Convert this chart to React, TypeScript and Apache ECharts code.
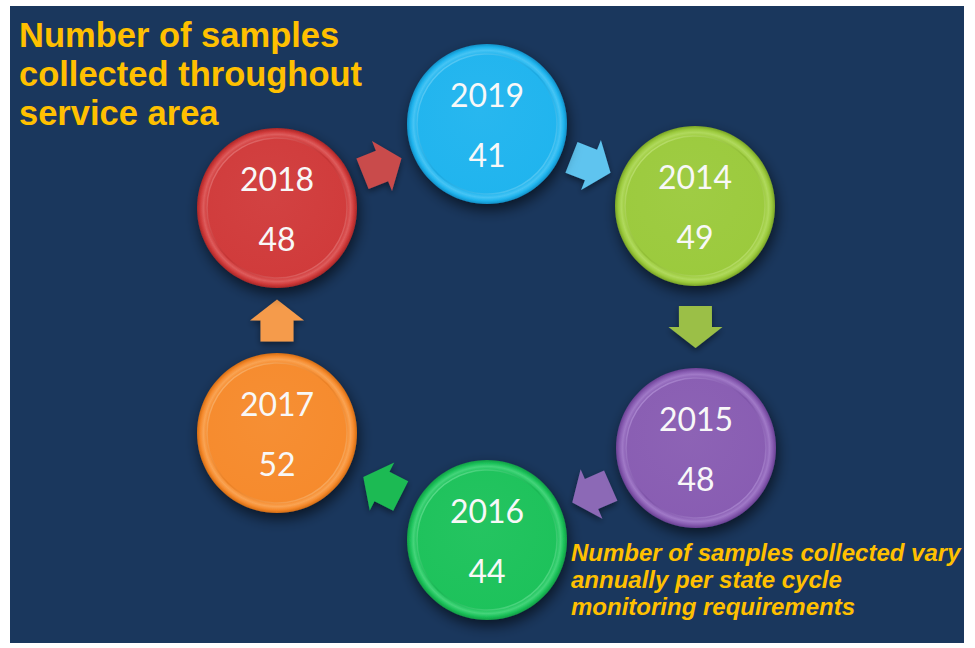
import React, { useEffect, useRef } from "react";
import * as echarts from "echarts";

// ---- data ----
const YEARS = ["2019", "2014", "2015", "2016", "2017", "2018"];
const SAMPLES = [41, 49, 48, 44, 52, 48];
const TITLE_LINES = ["Number of samples", "collected throughout", "service area"];
const NOTE_LINES = [
  "Number of samples collected vary",
  "annually per state cycle",
  "monitoring requirements",
];

// ---- layout (diagram slots, page pixels) ----
const SLOT_X = [487, 695, 696, 487, 277, 277];
const SLOT_Y = [124, 206, 448, 540, 433, 208];

// ---- styles ----
const BASE = ["#1fb4ee", "#9bca3c", "#885cb2", "#1cc25a", "#f68a2c", "#d03a3a"];
const DARK = ["#138fc6", "#79a326", "#6a4193", "#129d45", "#d26c14", "#a82727"];
const LIGHT = ["#8fe2ff", "#d8f59a", "#cdb0ee", "#8ff5b5", "#ffd09a", "#f59a9a"];
const ARROW = ["#5fc4ef", "#9bbf46", "#8c69b6", "#1bba52", "#f59b4b", "#c94b4b"];

const W = 975;
const H = 648;
const R = 80;

function mix(a: string, b: string, t: number) {
  const pa = [1, 3, 5].map((k) => parseInt(a.slice(k, k + 2), 16));
  const pb = [1, 3, 5].map((k) => parseInt(b.slice(k, k + 2), 16));
  const m = pa.map((v, i) => Math.round(v + (pb[i] - v) * t));
  return "rgb(" + m.join(",") + ")";
}

export default function App() {
  const ref = useRef<HTMLDivElement>(null);

  useEffect(() => {
    document.body.style.margin = "0";
    const chart = echarts.init(ref.current!, null, { renderer: "svg" });

    const nodeData = YEARS.map((y, i) => [SLOT_X[i], SLOT_Y[i], SAMPLES[i], i]);
    const arrowData = YEARS.map((_, i) => {
      const j = (i + 1) % YEARS.length;
      return [SLOT_X[i], SLOT_Y[i], SLOT_X[j], SLOT_Y[j], i];
    });

    const option: any = {
      animation: false,
      backgroundColor: "#ffffff",
      grid: { left: 0, right: 0, top: 0, bottom: 0 },
      xAxis: { type: "value", min: 0, max: W, show: false },
      yAxis: { type: "value", min: 0, max: H, inverse: true, show: false },
      graphic: [
        {
          type: "rect",
          z: -10,
          shape: { x: 10, y: 6, width: 954, height: 637 },
          style: { fill: "#1a375d" },
        },
        {
          type: "text",
          left: 19,
          top: 15,
          z: 10,
          style: {
            text: TITLE_LINES.join("\n"),
            fill: "#ffc000",
            font: 'bold 34.5px "Liberation Sans", Arial, sans-serif',
            lineHeight: 39,
          },
        },
        {
          type: "text",
          left: 571,
          top: 539,
          z: 10,
          style: {
            text: NOTE_LINES.join("\n"),
            fill: "#ffc000",
            font: 'italic bold 24px "Liberation Sans", Arial, sans-serif',
            lineHeight: 27,
          },
        },
      ],
      series: [
        {
          type: "custom",
          coordinateSystem: "cartesian2d",
          data: arrowData,
          silent: true,
          renderItem: (params: any, api: any) => {
            const p1 = api.coord([api.value(0), api.value(1)]);
            const p2 = api.coord([api.value(2), api.value(3)]);
            const idx = api.value(4);
            const mx = (p1[0] + p2[0]) / 2;
            const my = (p1[1] + p2[1]) / 2;
            const a = Math.atan2(p2[1] - p1[1], p2[0] - p1[0]);
            const c = Math.cos(a);
            const s = Math.sin(a);
            const local = [
              [-21, -16.5],
              [0, -16.5],
              [0, -27],
              [21, 0],
              [0, 27],
              [0, 16.5],
              [-21, 16.5],
            ];
            const pts = local.map(([u, v]) => [mx + u * c - v * s, my + u * s + v * c]);
            return {
              type: "polygon",
              shape: { points: pts },
              style: {
                fill: ARROW[idx],
                shadowBlur: 6,
                shadowColor: "rgba(0,0,0,0.45)",
                shadowOffsetY: 3,
              },
            };
          },
        },
        {
          type: "custom",
          coordinateSystem: "cartesian2d",
          data: nodeData,
          silent: true,
          renderItem: (params: any, api: any) => {
            const p = api.coord([api.value(0), api.value(1)]);
            const idx = api.value(3);
            const val = api.value(2);
            const base = BASE[idx];
            return {
              type: "group",
              x: p[0],
              y: p[1],
              children: [
                {
                  type: "circle",
                  shape: { cx: 0, cy: 0, r: R },
                  style: {
                    fill: new echarts.graphic.RadialGradient(0.5, 0.5, 0.5, [
                      { offset: 0, color: base },
                      { offset: 0.87, color: base },
                      { offset: 0.92, color: mix(base, LIGHT[idx], 0.35) },
                      { offset: 0.96, color: base },
                      { offset: 1, color: DARK[idx] },
                    ]),
                    shadowBlur: 14,
                    shadowColor: "rgba(0,0,0,0.6)",
                    shadowOffsetX: 2,
                    shadowOffsetY: 6,
                  },
                },
                {
                  type: "circle",
                  shape: { cx: 0, cy: 0, r: 70 },
                  style: {
                    fill: new echarts.graphic.RadialGradient(0.45, 0.4, 0.7, [
                      { offset: 0, color: mix(base, "#ffffff", 0.04) },
                      { offset: 1, color: base },
                    ]),
                    stroke: new echarts.graphic.LinearGradient(0, 0, 1, 1, [
                      { offset: 0, color: mix(base, LIGHT[idx], 0.7) },
                      { offset: 0.5, color: mix(base, DARK[idx], 0.3) },
                      { offset: 1, color: mix(base, LIGHT[idx], 0.6) },
                    ]),
                    lineWidth: 1.5,
                  },
                },
                {
                  type: "text",
                  x: 0,
                  y: -30,
                  style: {
                    text: YEARS[idx],
                    fill: "#f8f8f8",
                    font: '32px Lato, "Open Sans", sans-serif',
                    align: "center",
                    verticalAlign: "middle",
                  },
                },
                {
                  type: "text",
                  x: 0,
                  y: 30,
                  style: {
                    text: String(val),
                    fill: "#f8f8f8",
                    font: '32px Lato, "Open Sans", sans-serif',
                    align: "center",
                    verticalAlign: "middle",
                  },
                },
              ],
            };
          },
        },
      ],
    };

    chart.setOption(option);
    return () => chart.dispose();
  }, []);

  return <div ref={ref} style={{ width: W, height: H }} />;
}
